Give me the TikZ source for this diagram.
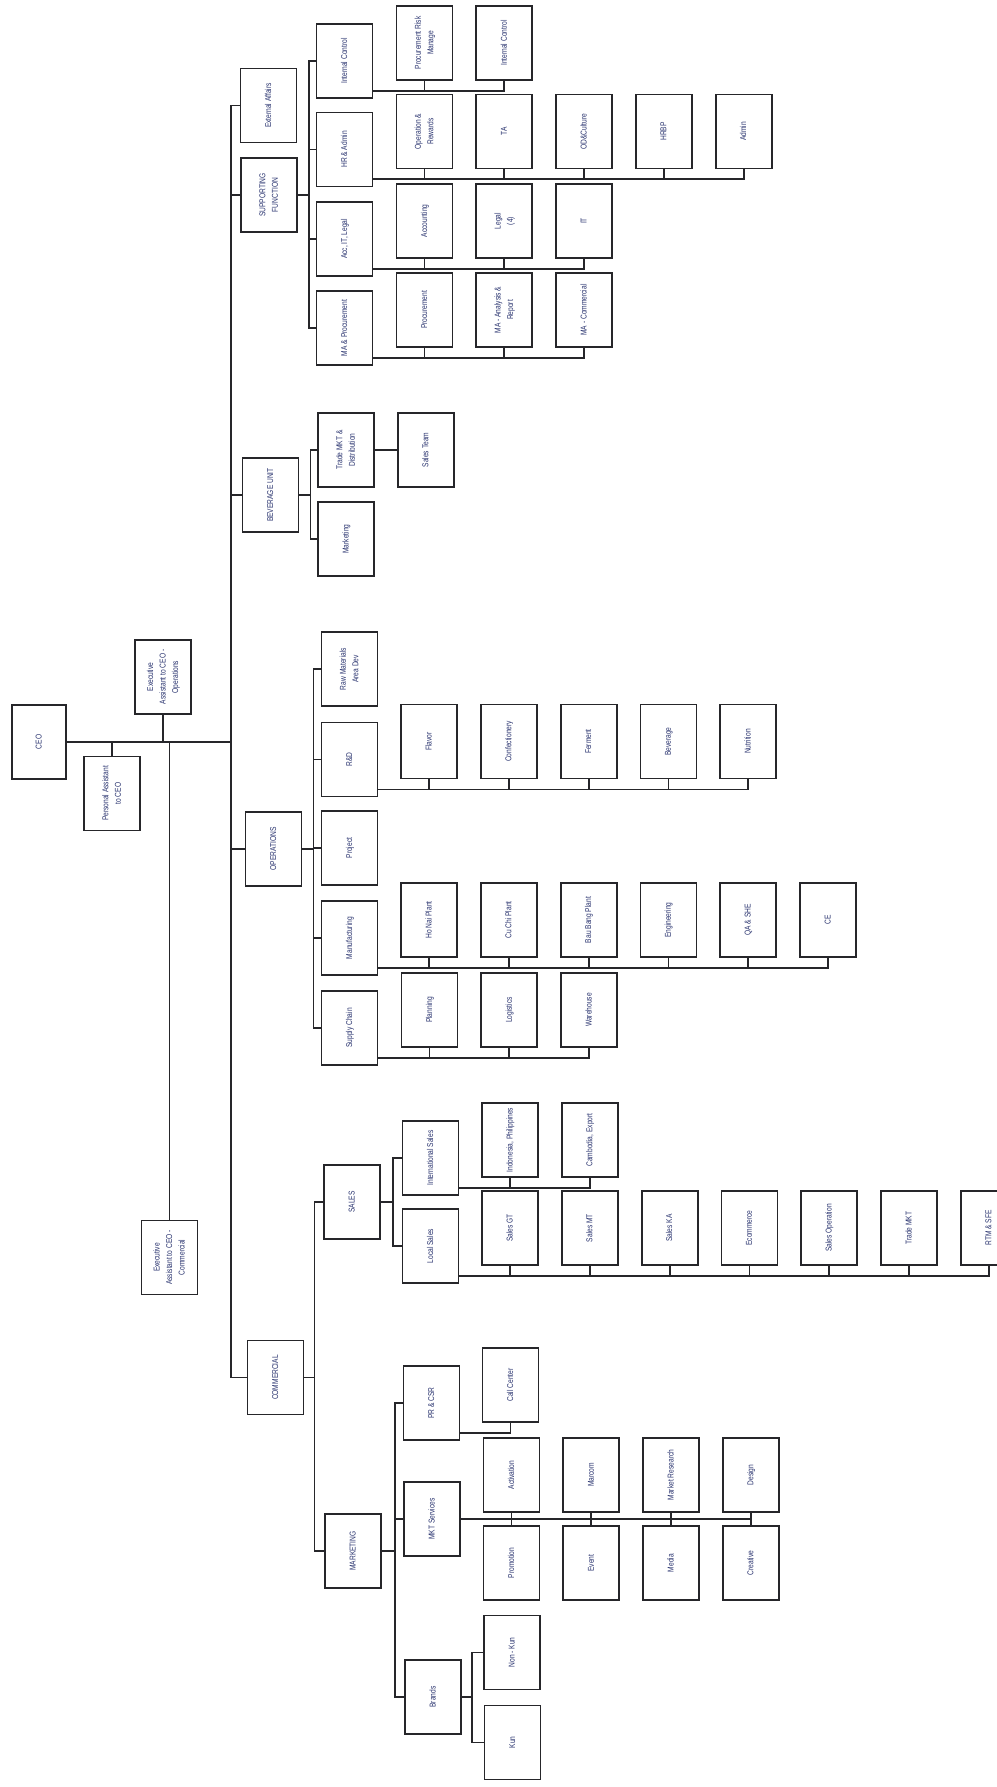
\documentclass[tikz,border=0pt]{standalone}
\usepackage{fontspec}
\setmainfont{Liberation Sans}[FakeStretch=0.78]
\usepackage{graphicx}
\usetikzlibrary{positioning}
\definecolor{inkc}{RGB}{38,38,42}
\definecolor{textc}{RGB}{40,50,110}
\newcommand{\rottext}[1]{\rotatebox{90}{\begin{tabular}{@{}c@{}}#1\end{tabular}}}

\begin{document}
\begin{tikzpicture}[x=1pt, y=-1pt, node distance=22pt]
\tikzset{
    box/.style={rectangle, draw=inkc, line width=1.8pt, fill=white, minimum width=56pt, minimum height=74pt, inner sep=1pt, text=textc, font=\fontsize{8.5}{12.5}\selectfont},
    link/.style={draw=inkc, line width=1.8pt}
}
\useasboundingbox (0,0) rectangle (996,1787);

% CEO office
\node[box, minimum width=54pt] (ceo) at (39,742) {\rottext{CEO}};
\node[box] (pa) at (112,793.5) {\rottext{Personal Assistant\\to CEO}};
\node[box] (eaops) at (163,677) {\rottext{Executive\\Assistant to CEO -\\Operations}};
\node[box] (eacom) at (169.5,1257.5) {\rottext{Executive\\Assistant to CEO -\\Commercial}};
\coordinate (sp) at (231,742);

% divisions
\node[box] (extaff) at (268.5,105.5) {\rottext{External Affairs}};
\node[box] (supp) at (269,195) {\rottext{SUPPORTING\\FUNCTION}};
\node[box] (bev) at (270.5,495) {\rottext{BEVERAGE UNIT}};
\node[box] (ops) at (273.5,849) {\rottext{OPERATIONS}};
\node[box] (comm) at (275.5,1377.5) {\rottext{COMMERCIAL}};

% supporting function
\node[box] (ic) at (344.5,61) {\rottext{Internal Control}};
\node[box] (hr) at (344.5,149.5) {\rottext{HR \& Admin}};
\node[box] (acc) at (344.5,239) {\rottext{Acc, IT, Legal}};
\node[box] (map) at (344.5,328) {\rottext{MA \& Procurement}};
\node[box] (prm) at ([shift={(80,-18)}]ic) {\rottext{Procurement Risk\\Manage}};
\node[box, right=of prm] (icc) {\rottext{Internal Control}};
\node[box] (opr) at ([shift={(80,-18)}]hr) {\rottext{Operation \&\\Rewards}};
\node[box, right=of opr] (ta) {\rottext{TA}};
\node[box, right=of ta] (od) {\rottext{OD\&Culture}};
\node[box, right=of od] (hrbp) {\rottext{HRBP}};
\node[box, right=of hrbp] (admin) {\rottext{Admin}};
\node[box] (accounting) at ([shift={(80,-18)}]acc) {\rottext{Accounting}};
\node[box, right=of accounting] (legal) {\rottext{Legal\\(4)}};
\node[box, right=of legal] (it) {\rottext{IT}};
\node[box] (procmt) at ([shift={(80,-18)}]map) {\rottext{Procurement}};
\node[box, right=of procmt] (maar) {\rottext{MA - Analysis \&\\Report}};
\node[box, right=of maar] (mac) {\rottext{MA - Commercial}};

% beverage unit
\node[box] (tmd) at (346,450) {\rottext{Trade MKT \&\\Distribution}};
\node[box] (bmkt) at (346,539) {\rottext{Marketing}};
\node[box, right=of tmd] (steam) {\rottext{Sales Team}};

% operations
\node[box] (raw) at (349.5,669) {\rottext{Raw Materials\\Area Dev}};
\node[box] (rnd) at (349.5,759.5) {\rottext{R\&D}};
\node[box] (proj) at (349.5,848) {\rottext{Project}};
\node[box] (mfg) at (349.5,938) {\rottext{Manufacturing}};
\node[box] (sc) at (349.5,1028) {\rottext{Supply Chain}};
\node[box] (flavor) at ([shift={(79.5,-18)}]rnd) {\rottext{Flavor}};
\node[box, right=of flavor] (confect) {\rottext{Confectionery}};
\node[box, right=of confect] (ferment) {\rottext{Ferment}};
\node[box, right=of ferment] (bevrd) {\rottext{Beverage}};
\node[box, right=of bevrd] (nutri) {\rottext{Nutrition}};
\node[box] (honai) at ([shift={(79.5,-18)}]mfg) {\rottext{Ho Nai Plant}};
\node[box, right=of honai] (cuchi) {\rottext{Cu Chi Plant}};
\node[box, right=of cuchi] (baubang) {\rottext{Bau Bang Plant}};
\node[box, right=of baubang] (eng) {\rottext{Engineering}};
\node[box, right=of eng] (qa) {\rottext{QA \& SHE}};
\node[box, right=of qa] (ce) {\rottext{CE}};
\node[box] (planning) at ([shift={(80,-18)}]sc) {\rottext{Planning}};
\node[box, right=of planning] (logistics) {\rottext{Logistics}};
\node[box, right=of logistics] (whouse) {\rottext{Warehouse}};

% commercial
\node[box] (sales) at (352,1202) {\rottext{SALES}};
\node[box] (mkt) at (353,1551) {\rottext{MARKETING}};
\node[box] (intl) at (430.5,1158) {\rottext{International Sales}};
\node[box] (local) at (430.5,1246) {\rottext{Local Sales}};
\node[box] (indo) at ([shift={(79.5,-18)}]intl) {\rottext{Indonesia, Philippines}};
\node[box, right=of indo] (camb) {\rottext{Cambodia, Export}};
\node[box] (gt) at ([shift={(79.5,-18)}]local) {\rottext{Sales GT}};
\node[box, right=of gt] (mt) {\rottext{Sales MT}};
\node[box, right=of mt] (ka) {\rottext{Sales KA}};
\node[box, right=of ka] (ecom) {\rottext{Ecommerce}};
\node[box, right=of ecom] (sop) {\rottext{Sales Operation}};
\node[box, right=of sop] (tmkt) {\rottext{Trade MKT}};
\node[box, right=of tmkt] (rtm) {\rottext{RTM \& SFE}};
\node[box] (pr) at (431.5,1403) {\rottext{PR \& CSR}};
\node[box] (mktsvc) at (432,1519) {\rottext{MKT Services}};
\node[box] (brands) at (433,1697) {\rottext{Brands}};
\node[box] (callc) at ([shift={(79,-18)}]pr) {\rottext{Call Center}};
\node[box] (activation) at ([shift={(79.5,-44)}]mktsvc) {\rottext{Activation}};
\node[box, right=of activation] (marcom) {\rottext{Marcom}};
\node[box, right=of marcom] (mresearch) {\rottext{Market Research}};
\node[box, right=of mresearch] (design) {\rottext{Design}};
\node[box] (promotion) at ([shift={(79.5,44)}]mktsvc) {\rottext{Promotion}};
\node[box, right=of promotion] (event) {\rottext{Event}};
\node[box, right=of event] (media) {\rottext{Media}};
\node[box, right=of media] (creative) {\rottext{Creative}};
\node[box] (nonkun) at ([shift={(79,-44.5)}]brands) {\rottext{Non - Kun}};
\node[box] (kun) at ([shift={(79.5,45.5)}]brands) {\rottext{Kun}};

% spine
\draw[link] (ceo.east) -- (sp);
\draw[link] (pa.north) -- (pa.north |- sp);
\draw[link] (eaops.south) -- (eaops.south |- sp);
\draw[link] (eacom.north) -- (eacom.north |- sp);
\draw[link] (extaff.west) -| (sp) |- (comm.west);
\draw[link] (supp.west) -- (supp.west -| sp) (bev.west) -- (bev.west -| sp) (ops.west) -- (ops.west -| sp);

% division buses
\draw[link] (supp.east) -- ++(11,0) coordinate (sfb);
\draw[link] (sfb) |- (ic.west) (sfb) |- (hr.west) (sfb) |- (acc.west) (sfb) |- (map.west);
\draw[link] (bev.east) -- ++(11,0) coordinate (bub);
\draw[link] (bub) |- (tmd.west) (bub) |- (bmkt.west);
\draw[link] (tmd) -- (steam);
\draw[link] (ops.east) -- ++(11,0) coordinate (opb);
\draw[link] (opb) |- (raw.west) (opb) |- (rnd.west) (opb) |- (proj.west) (opb) |- (mfg.west) (opb) |- (sc.west);
\draw[link] (comm.east) -- ++(10,0) coordinate (cmb);
\draw[link] (cmb) |- (sales.west) (cmb) |- (mkt.west);
\draw[link] (sales.east) -- ++(12,0) coordinate (slb);
\draw[link] (slb) |- (intl.west) (slb) |- (local.west);
\draw[link] (mkt.east) -- ++(13,0) coordinate (mkb);
\draw[link] (mkb) |- (pr.west) (mkb) |- (mktsvc.west) (mkb) |- (brands.west);

% team buses
\draw[link] ([yshift=8pt]ic.south east) coordinate (icb) -| (icc.south);
\draw[link] (prm.south) -- (prm.south |- icb);
\draw[link] ([yshift=8pt]hr.south east) coordinate (hrb) -| (admin.south);
\draw[link] (opr.south) -- (opr.south |- hrb) (ta.south) -- (ta.south |- hrb) (od.south) -- (od.south |- hrb) (hrbp.south) -- (hrbp.south |- hrb);
\draw[link] ([yshift=8pt]acc.south east) coordinate (acb) -| (it.south);
\draw[link] (accounting.south) -- (accounting.south |- acb) (legal.south) -- (legal.south |- acb);
\draw[link] ([yshift=8pt]map.south east) coordinate (mab) -| (mac.south);
\draw[link] (procmt.south) -- (procmt.south |- mab) (maar.south) -- (maar.south |- mab);
\draw[link] ([yshift=8pt]rnd.south east) coordinate (rdb) -| (nutri.south);
\draw[link] (flavor.south) -- (flavor.south |- rdb) (confect.south) -- (confect.south |- rdb) (ferment.south) -- (ferment.south |- rdb) (bevrd.south) -- (bevrd.south |- rdb);
\draw[link] ([yshift=8pt]mfg.south east) coordinate (mfb) -| (ce.south);
\draw[link] (honai.south) -- (honai.south |- mfb) (cuchi.south) -- (cuchi.south |- mfb) (baubang.south) -- (baubang.south |- mfb) (eng.south) -- (eng.south |- mfb) (qa.south) -- (qa.south |- mfb);
\draw[link] ([yshift=8pt]sc.south east) coordinate (scb) -| (whouse.south);
\draw[link] (planning.south) -- (planning.south |- scb) (logistics.south) -- (logistics.south |- scb);
\draw[link] ([yshift=8pt]intl.south east) coordinate (isb) -| (camb.south);
\draw[link] (indo.south) -- (indo.south |- isb);
\draw[link] ([yshift=8pt]local.south east) coordinate (lsb) -| (rtm.south);
\draw[link] (gt.south) -- (gt.south |- lsb) (mt.south) -- (mt.south |- lsb) (ka.south) -- (ka.south |- lsb) (ecom.south) -- (ecom.south |- lsb) (sop.south) -- (sop.south |- lsb) (tmkt.south) -- (tmkt.south |- lsb);
\draw[link] ([yshift=8pt]pr.south east) -| (callc.south);
\draw[link] (mktsvc.east) -| (design.south);
\draw[link] (activation.south) -- (activation.south |- mktsvc.east) (marcom.south) -- (marcom.south |- mktsvc.east) (mresearch.south) -- (mresearch.south |- mktsvc.east);
\draw[link] (promotion.north) -- (promotion.north |- mktsvc.east) (event.north) -- (event.north |- mktsvc.east) (media.north) -- (media.north |- mktsvc.east) (creative.north) -- (creative.north |- mktsvc.east);
\draw[link] (brands.east) -- ++(10,0) coordinate (brb);
\draw[link] (brb) |- (nonkun.west) (brb) |- (kun.west);
\end{tikzpicture}
\end{document}
